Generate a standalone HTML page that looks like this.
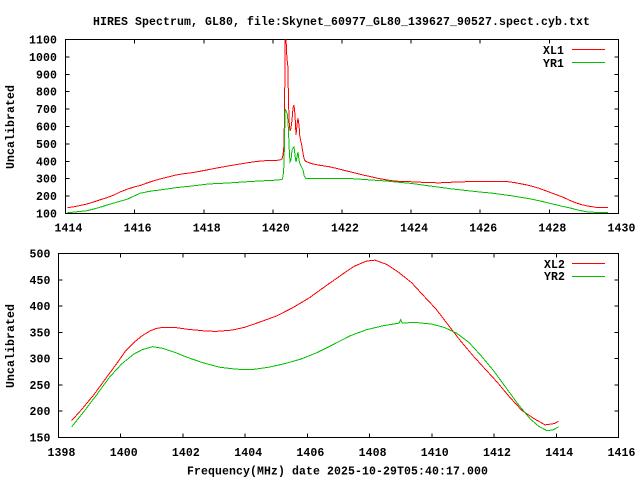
<!DOCTYPE html>
<html>
<head>
<meta charset="utf-8">
<style>
html,body{margin:0;padding:0;background:#fff;}
svg{display:block;}
text{font-family:"Liberation Mono","DejaVu Sans Mono",monospace;font-weight:bold;font-size:11.5px;fill:#000;letter-spacing:0.1px;}
</style>
</head>
<body>
<svg width="640" height="480" viewBox="0 0 640 480" xmlns="http://www.w3.org/2000/svg">
<rect x="0" y="0" width="640" height="480" fill="#fff"/>

<!-- Title -->
<text x="341.5" y="25" text-anchor="middle" textLength="497">HIRES Spectrum, GL80, file:Skynet_60977_GL80_139627_90527.spect.cyb.txt</text>

<!-- ================= TOP PLOT ================= -->
<g stroke="#000" stroke-width="1" fill="none" shape-rendering="crispEdges">
<rect x="65.5" y="39.5" width="553" height="174"/>
<path d="M65.5 196.1h4 M65.5 178.7h4 M65.5 161.3h4 M65.5 143.9h4 M65.5 126.5h4 M65.5 109.1h4 M65.5 91.7h4 M65.5 74.3h4 M65.5 56.9h4
M618.5 196.1h-4 M618.5 178.7h-4 M618.5 161.3h-4 M618.5 143.9h-4 M618.5 126.5h-4 M618.5 109.1h-4 M618.5 91.7h-4 M618.5 74.3h-4 M618.5 56.9h-4"/>
<path d="M134.6 213.5v-4 M203.8 213.5v-4 M272.9 213.5v-4 M342 213.5v-4 M411.1 213.5v-4 M480.2 213.5v-4 M549.4 213.5v-4
M134.6 39.5v4 M203.8 39.5v4 M272.9 39.5v4 M342 39.5v4 M411.1 39.5v4 M480.2 39.5v4 M549.4 39.5v4"/>
</g>

<g text-anchor="end">
<text x="57" y="217.5">100</text>
<text x="57" y="200.1">200</text>
<text x="57" y="182.7">300</text>
<text x="57" y="165.3">400</text>
<text x="57" y="147.9">500</text>
<text x="57" y="130.5">600</text>
<text x="57" y="113.1">700</text>
<text x="57" y="95.7">800</text>
<text x="57" y="78.3">900</text>
<text x="57" y="60.9">1000</text>
<text x="57" y="43.5">1100</text>
</g>
<g text-anchor="middle">
<text x="68.5" y="231.5">1414</text>
<text x="137.6" y="231.5">1416</text>
<text x="206.8" y="231.5">1418</text>
<text x="275.9" y="231.5">1420</text>
<text x="345" y="231.5">1422</text>
<text x="414.1" y="231.5">1424</text>
<text x="483.2" y="231.5">1426</text>
<text x="552.4" y="231.5">1428</text>
<text x="621.5" y="231.5">1430</text>
</g>
<text transform="translate(14,127) rotate(-90)" text-anchor="middle">Uncalibrated</text>

<defs>
<clipPath id="c1"><rect x="65.5" y="39.5" width="553" height="174"/></clipPath>
<clipPath id="c2"><rect x="58.5" y="253.5" width="560" height="184"/></clipPath>
</defs>

<g clip-path="url(#c1)" fill="none" stroke-width="1" stroke-linejoin="miter" shape-rendering="crispEdges">
<polyline stroke="#ff0000" points="67.7,207.5 73,207 80,205.5 87,204 95,201.5 101,199.5 107,197.7 114,195 120,192 127,189.3 134,187 140,185.5 147,183 153,181 160,179 168,177 176,175 184,173.7 192,172.7 200,171.3 208,169.7 218,167.8 228,166 238,164.3 248,162.7 256,161.5 265,160.7 275,160.5 280,160 282,159 283,155 284,145 284.7,100 285,38 286,38 286.3,45 287,60 287.7,63 288.3,90 289,120 290,131 291,128 292,120 293,108 294,105 295,115 296,135 297,125 298,118 299,125 299.7,135 300.5,140 301.5,144 302.5,150 303.5,156 304.5,160 306,161.5 310,163 313,164 320,165.3 329,166.7 337,168.5 345.5,170.7 353,172.5 361.6,174.7 370,176.5 377.8,178.3 386,179.8 394,181 402,181.5 410,181.7 420,182.2 430,182.7 440,182.8 450,182.3 458,182 466.6,181.7 475,181.5 483,181.3 493,181.3 503,181.3 509,181.8 515,182.7 521,183.8 527,185 533,186.5 539,188.3 545,190.5 551,192.7 557,195 563.4,197.3 569,200 575.6,202.7 581,204.5 587.7,206 595.7,207.3 607.8,207.3"/>
<polyline stroke="#00c000" points="67.7,212.7 75,212 87,210.7 95,208.7 101,207 107,205 114,203 120,201.3 127,199.3 134,196 140,193.3 147,191.8 153,190.8 160,190 168,188.8 176,187.7 184,186.8 192,186 200,185 208,184 218,183.5 228,183 238,182.3 248,181.7 256,181.2 265,180.7 275,180.2 282,179.5 283,177 284,165 284.7,130 285.3,109 286,111 287,113 287.5,115 288.5,130 289,145 290,162 291,160 292,150 293,148 294,147 295,155 296,162 297,157 298,152 299,160 299.7,163 301,166 303,170 304.3,176 305.7,178.3 320,178.3 341.5,178.3 352,178.7 361.6,179.3 374,180.2 386,181 398,182.2 410,183.3 420,184.6 430,186 440,187.3 450,188.7 460,189.8 470.6,191 480,192 490.8,193 500,194.2 511,195.7 521,197.3 531,199 541,201.2 551.3,203.7 561,206 571.5,208.3 580,210.5 587.7,212 595,212.3 607.8,212.3"/>
</g>

<!-- top legend -->
<g text-anchor="end">
<text x="564" y="53.8">XL1</text>
<text x="564" y="66.8">YR1</text>
</g>
<g stroke-width="1" shape-rendering="crispEdges">
<line x1="572" y1="49.5" x2="605" y2="49.5" stroke="#ff0000"/>
<line x1="572" y1="62.5" x2="605" y2="62.5" stroke="#00c000"/>
</g>

<!-- ================= BOTTOM PLOT ================= -->
<g stroke="#000" stroke-width="1" fill="none" shape-rendering="crispEdges">
<rect x="58.5" y="253.5" width="560" height="184"/>
<path d="M58.5 411.2h4 M58.5 384.9h4 M58.5 358.6h4 M58.5 332.4h4 M58.5 306.1h4 M58.5 279.8h4
M618.5 411.2h-4 M618.5 384.9h-4 M618.5 358.6h-4 M618.5 332.4h-4 M618.5 306.1h-4 M618.5 279.8h-4"/>
<path d="M120.7 437.5v-4 M182.9 437.5v-4 M245.2 437.5v-4 M307.4 437.5v-4 M369.6 437.5v-4 M431.8 437.5v-4 M494 437.5v-4 M556.3 437.5v-4
M120.7 253.5v4 M182.9 253.5v4 M245.2 253.5v4 M307.4 253.5v4 M369.6 253.5v4 M431.8 253.5v4 M494 253.5v4 M556.3 253.5v4"/>
</g>

<g text-anchor="end">
<text x="50.5" y="441.5">150</text>
<text x="50.5" y="415.2">200</text>
<text x="50.5" y="388.9">250</text>
<text x="50.5" y="362.6">300</text>
<text x="50.5" y="336.4">350</text>
<text x="50.5" y="310.1">400</text>
<text x="50.5" y="283.8">450</text>
<text x="50.5" y="257.5">500</text>
</g>
<g text-anchor="middle">
<text x="61.5" y="456">1398</text>
<text x="123.7" y="456">1400</text>
<text x="185.9" y="456">1402</text>
<text x="248.2" y="456">1404</text>
<text x="310.4" y="456">1406</text>
<text x="372.6" y="456">1408</text>
<text x="434.8" y="456">1410</text>
<text x="497" y="456">1412</text>
<text x="559.3" y="456">1414</text>
<text x="621.5" y="456">1416</text>
</g>
<text transform="translate(14,346) rotate(-90)" text-anchor="middle">Uncalibrated</text>
<text x="337.5" y="474.5" text-anchor="middle">Frequency(MHz) date 2025-10-29T05:40:17.000</text>

<g clip-path="url(#c2)">
<g transform="translate(58.5,437.5) scale(31.111,-0.52571) translate(-1398,-150)" fill="none" shape-rendering="crispEdges">
<polyline vector-effect="non-scaling-stroke" stroke="#ff0000" stroke-width="1" points="1398.42,182 1398.72,201.7 1399.12,230 1399.51,261.6 1399.9,293 1400.16,315 1400.43,331 1400.69,343.6 1400.95,353 1401.15,357.5 1401.35,359.4 1401.74,359.4 1402.13,356 1402.66,353 1403.05,351.8 1403.58,354.3 1403.97,359.4 1404.49,370 1405.02,381.4 1405.54,397.2 1406.07,416 1406.59,438.2 1407.12,460.3 1407.51,476 1407.9,485.5 1408.17,487.4 1408.56,479 1408.95,463.4 1409.35,444.5 1409.74,419.3 1410.14,394 1410.53,363.8 1410.92,334 1411.32,305.8 1411.71,280.5 1412.1,255.3 1412.5,227 1412.89,201.7 1413.28,186 1413.64,174 1413.94,176.5 1414.07,181"/>
<polyline vector-effect="non-scaling-stroke" stroke="#00c000" stroke-width="1" points="1398.42,170 1398.85,201.7 1399.25,233.2 1399.64,264.8 1400.03,290 1400.43,309 1400.69,317 1401.02,322.8 1401.35,319.6 1401.74,312 1402.13,302.6 1402.66,291.9 1403.18,283.7 1403.71,279.9 1404.23,279.3 1404.76,283.7 1405.28,290.6 1405.81,299.5 1406.33,312 1406.86,327.8 1407.38,343.6 1407.9,355 1408.43,362.5 1408.95,367.6 1409.0,374 1409.05,367.8 1409.48,368.8 1410.0,365.7 1410.4,359.4 1410.79,348.6 1411.19,331 1411.58,305.8 1411.98,277.4 1412.37,245.8 1412.76,214.3 1413.15,186 1413.42,172 1413.68,163.5 1413.88,164 1414.07,170"/>
</g>
</g>

<!-- bottom legend -->
<g text-anchor="end">
<text x="565" y="267.8">XL2</text>
<text x="565" y="280.2">YR2</text>
</g>
<g stroke-width="1" shape-rendering="crispEdges">
<line x1="572" y1="263.5" x2="605" y2="263.5" stroke="#ff0000"/>
<line x1="572" y1="276.5" x2="605" y2="276.5" stroke="#00c000"/>
</g>
</svg>
</body>
</html>
